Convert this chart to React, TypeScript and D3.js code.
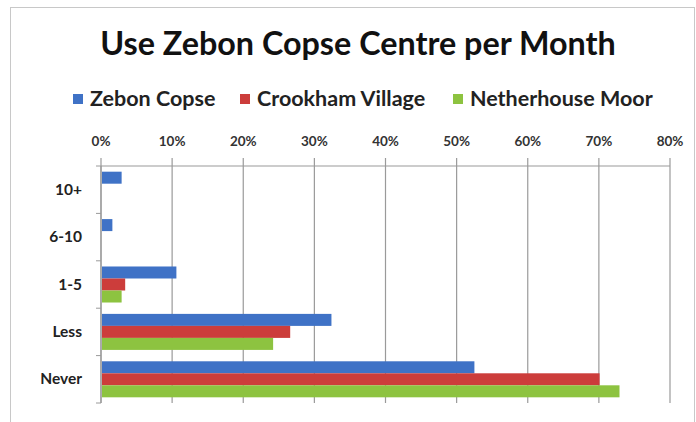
import React, { useRef, useEffect } from 'react';
import * as d3 from 'd3';

const categories = ['10+', '6-10', '1-5', 'Less', 'Never'];
const seriesNames = ['Zebon Copse', 'Crookham Village', 'Netherhouse Moor'];
const zebonCopse = [2.9, 1.6, 10.6, 32.4, 52.5];
const crookhamVillage = [0, 0, 3.4, 26.6, 70.1];
const netherhouseMoor = [0, 0, 2.9, 24.2, 72.9];
const xTicks = [0, 10, 20, 30, 40, 50, 60, 70, 80];

const colors = ['#3F72C6', '#CC3D3B', '#8DC340'];

const App = () => {
  const ref = useRef<SVGSVGElement | null>(null);

  const width = 696;
  const height = 422;

  useEffect(() => {
    if (!ref.current) return;

    const margin = { top: 166, right: 26, bottom: 19, left: 101 };
    const font = 'Lato, "Open Sans", sans-serif';

    const values = [zebonCopse, crookhamVillage, netherhouseMoor];
    const rows = categories.map((c, i) => ({
      name: c,
      vals: seriesNames.map((s, j) => ({ key: s, idx: j, value: values[j][i] })),
    }));

    const x = d3
      .scaleLinear()
      .domain([0, 80])
      .range([margin.left, width - margin.right]);

    const y = d3
      .scaleBand<string>()
      .domain(categories)
      .range([margin.top, height - margin.bottom])
      .paddingInner(0.24)
      .paddingOuter(0.12);

    const sub = d3
      .scaleBand<string>()
      .domain(seriesNames)
      .range([0, y.bandwidth()]);

    const svg = d3.select(ref.current);
    svg.selectAll('*').remove();

    svg
      .append('rect')
      .attr('x', 10.5)
      .attr('y', 7.5)
      .attr('width', width - 12)
      .attr('height', height - 6)
      .attr('fill', '#fff')
      .attr('stroke', '#c8c8c8');

    // title
    svg
      .append('text')
      .attr('x', 358)
      .attr('y', 55)
      .attr('text-anchor', 'middle')
      .attr('font-family', font)
      .attr('font-weight', 700)
      .attr('font-size', 32.3)
      .attr('fill', '#111')
      .text('Use Zebon Copse Centre per Month');

    // legend
    const legendX = [73, 240, 453];
    const legend = svg
      .append('g')
      .selectAll('g')
      .data(seriesNames)
      .join('g')
      .attr('transform', (_d, i) => `translate(${legendX[i]},99)`);
    legend
      .append('rect')
      .attr('y', -5)
      .attr('width', 10)
      .attr('height', 10)
      .attr('fill', (_d, i) => colors[i]);
    legend
      .append('text')
      .attr('x', 17)
      .attr('y', 6.5)
      .attr('font-family', font)
      .attr('font-weight', 700)
      .attr('font-size', 21.5)
      .attr('fill', '#222')
      .text((d) => d);

    // gridlines
    svg
      .append('g')
      .selectAll('line')
      .data(xTicks)
      .join('line')
      .attr('x1', (d) => x(d))
      .attr('x2', (d) => x(d))
      .attr('y1', margin.top - 8)
      .attr('y2', height - margin.bottom)
      .attr('stroke', '#9a9a9a')
      .attr('stroke-width', 1.2);

    // top axis line
    svg
      .append('line')
      .attr('x1', margin.left)
      .attr('x2', width - margin.right)
      .attr('y1', margin.top)
      .attr('y2', margin.top)
      .attr('stroke', '#9a9a9a')
      .attr('stroke-width', 1.2);

    // tick labels
    svg
      .append('g')
      .selectAll('text')
      .data(xTicks)
      .join('text')
      .attr('x', (d) => x(d))
      .attr('y', 146)
      .attr('text-anchor', 'middle')
      .attr('font-family', font)
      .attr('font-weight', 700)
      .attr('font-size', 13.5)
      .attr('fill', '#333')
      .text((d) => `${d}%`);

    // left axis
    svg
      .append('line')
      .attr('x1', margin.left)
      .attr('x2', margin.left)
      .attr('y1', margin.top)
      .attr('y2', height - margin.bottom)
      .attr('stroke', '#9a9a9a')
      .attr('stroke-width', 1.2);

    const bounds = categories.map((c) => y(c)! - (y.step() - y.bandwidth()) / 2);
    bounds.push(height - margin.bottom);
    svg
      .append('g')
      .selectAll('line')
      .data(bounds)
      .join('line')
      .attr('x1', margin.left - 5)
      .attr('x2', margin.left)
      .attr('y1', (d) => d)
      .attr('y2', (d) => d)
      .attr('stroke', '#9a9a9a');

    svg
      .append('g')
      .selectAll('text')
      .data(categories)
      .join('text')
      .attr('x', 82)
      .attr('y', (d) => y(d)! + y.bandwidth() / 2 + 5)
      .attr('text-anchor', 'end')
      .attr('font-family', font)
      .attr('font-weight', 700)
      .attr('font-size', 15.5)
      .attr('fill', '#222')
      .text((d) => d);

    // bars
    svg
      .append('g')
      .selectAll('g')
      .data(rows)
      .join('g')
      .attr('transform', (d) => `translate(0,${y(d.name)})`)
      .selectAll('rect')
      .data((d) => d.vals.filter((v) => v.value > 0))
      .join('rect')
      .attr('x', x(0) + 1)
      .attr('y', (d) => sub(d.key)!)
      .attr('width', (d) => x(d.value) - x(0) - 1)
      .attr('height', sub.bandwidth())
      .attr('fill', (d) => colors[d.idx]);
  });

  return (
    <svg
      ref={ref}
      width={width}
      height={height}
      viewBox={`0 0 ${width} ${height}`}
      style={{ position: 'absolute', left: 0, top: 0, background: '#fff' }}
    />
  );
};

export default App;
